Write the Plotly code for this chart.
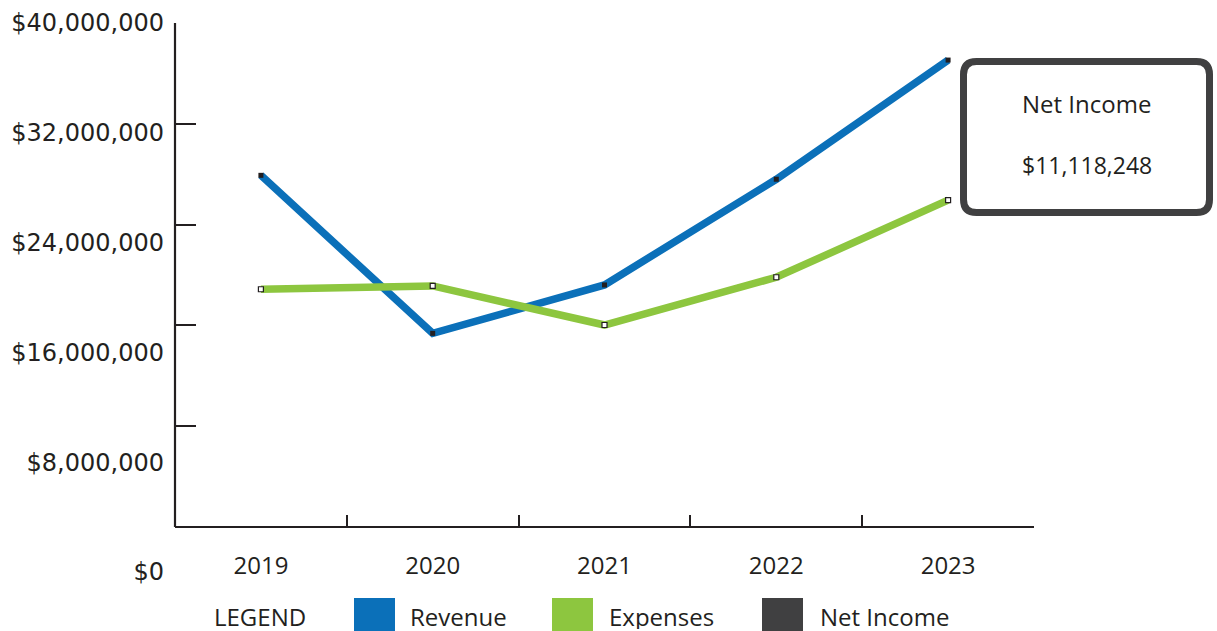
import plotly.graph_objects as go

# Financial summary, 2019-2023
years = ["2019", "2020", "2021", "2022", "2023"]
revenue = [27_910_000, 15_370_000, 19_210_000, 27_600_000, 37_058_248]
expenses = [18_870_000, 19_130_000, 16_030_000, 19_820_000, 25_940_000]
net_income = [r - e for r, e in zip(revenue, expenses)]

y_tick_values = [0, 8_000_000, 16_000_000, 24_000_000, 32_000_000, 40_000_000]
y_tick_labels = ["$0", "$8,000,000", "$16,000,000", "$24,000,000",
                 "$32,000,000", "$40,000,000"]

legend_names = ["Revenue", "Expenses", "Net Income"]

BLUE = "#0b70b9"
GREEN = "#8dc63f"
DARK = "#404041"
INK = "#231f20"
FONT = "'Open Sans', Lato, sans-serif"
NUM_FONT = "'DejaVu Sans', 'Open Sans', sans-serif"
FS = 24

# page geometry (pixels)
W, H = 1217, 631
L, R, T, B = 175, 183, 23, 59
PW, PH = W - L - R, H - T - B
ZERO_PX, TOP_PX = 527, 23          # where $0 and $40M sit on the value axis
Y_MAX = y_tick_values[-1]
Y_MIN = -(H - B - ZERO_PX) / (ZERO_PX - TOP_PX) * Y_MAX


def px(x):
    return (x - L) / PW


def py(y):
    return (H - B - y) / PH


fig = go.Figure()

fig.add_trace(go.Scatter(
    x=years, y=revenue, name="Revenue", mode="lines+markers",
    line=dict(color=BLUE, width=7.5),
    marker=dict(symbol="square", size=5, color=INK),
    showlegend=False,
))
fig.add_trace(go.Scatter(
    x=years, y=expenses, name="Expenses", mode="lines+markers",
    line=dict(color=GREEN, width=7.5),
    marker=dict(symbol="square", size=5, color="white",
                line=dict(color=INK, width=1.2)),
    showlegend=False,
))
# invisible trace that carries the secondary label axis
fig.add_trace(go.Scatter(
    x=years, y=[None] * len(years), yaxis="y2", showlegend=False,
    hoverinfo="skip",
))

shapes = []
# value axis line, from $0 to $40M
shapes.append(dict(type="line", xref="paper", yref="y", x0=0, x1=0,
                   y0=0, y1=Y_MAX, line=dict(color=INK, width=2.2)))

# rounded call-out box for net income
bl, br, bt, bb, rad = 963.5, 1209.5, 61.5, 212.5, 13


def P(x, y):
    return f"{px(x):.5f},{py(y):.5f}"


path = (f"M {P(bl + rad, bt)} L {P(br - rad, bt)} Q {P(br, bt)} {P(br, bt + rad)} "
        f"L {P(br, bb - rad)} Q {P(br, bb)} {P(br - rad, bb)} "
        f"L {P(bl + rad, bb)} Q {P(bl, bb)} {P(bl, bb - rad)} "
        f"L {P(bl, bt + rad)} Q {P(bl, bt)} {P(bl + rad, bt)} Z")
shapes.append(dict(type="path", xref="paper", yref="paper", path=path,
                   fillcolor="white", line=dict(color=DARK, width=7)))

annotations = [
    dict(text="Net Income", x=px(1086.5), y=py(103), xref="paper", yref="paper",
         showarrow=False, font=dict(family=FONT, size=FS, color=INK),
         xanchor="center", yanchor="middle"),
    dict(text=f"${net_income[-1]:,}", x=px(1086.5), y=py(165), xref="paper",
         yref="paper", showarrow=False,
         font=dict(family=FONT, size=23, color=INK),
         xanchor="center", yanchor="middle"),
    dict(text="LEGEND", x=px(212), y=py(616), xref="paper", yref="paper",
         showarrow=False, font=dict(family=FONT, size=FS, color=INK),
         xanchor="left", yanchor="middle", height=26),
]

# legend swatches and names
swatch_left = [354, 552, 762]
text_left = [408, 607, 818]
swatch_colors = [BLUE, GREEN, DARK]
for name, sx, tx, c in zip(legend_names, swatch_left, text_left, swatch_colors):
    shapes.append(dict(type="rect", xref="paper", yref="paper",
                       x0=px(sx), x1=px(sx + 41), y0=py(598), y1=py(640),
                       fillcolor=c, line=dict(width=0)))
    annotations.append(dict(text=name, x=px(tx), y=py(616), xref="paper",
                            yref="paper", showarrow=False,
                            font=dict(family=FONT, size=FS, color=INK),
                            xanchor="left", yanchor="middle", height=26))

fig.update_layout(
    width=W, height=H,
    margin=dict(l=L, r=R, t=T, b=B, pad=0, autoexpand=False),
    paper_bgcolor="white", plot_bgcolor="white",
    font=dict(family=FONT, size=FS, color=INK),
    showlegend=False,
    xaxis=dict(
        type="category", categoryorder="array", categoryarray=years,
        range=[-0.5, len(years) - 0.5], anchor="free",
        position=(H - B - ZERO_PX) / PH, automargin=False,
        showline=True, linecolor=INK, linewidth=2.2,
        ticks="inside", tickson="boundaries", ticklen=11, tickwidth=2,
        tickcolor=INK, showgrid=False, zeroline=False,
        tickfont=dict(family=FONT, size=FS, color=INK),
        ticklabelstandoff=17,
    ),
    yaxis=dict(
        range=[Y_MIN, Y_MAX], tickvals=y_tick_values, showticklabels=False,
        ticks="inside", ticklen=21, tickwidth=2.2, tickcolor=INK,
        showline=False, showgrid=False, zeroline=False, automargin=False,
    ),
    yaxis2=dict(
        overlaying="y", side="left", range=[0, Y_MAX],
        tickvals=y_tick_values, ticktext=y_tick_labels, ticks="",
        showline=False, showgrid=False, zeroline=False, automargin=False,
        tickfont=dict(family=NUM_FONT, size=24, color=INK),
        ticklabelstandoff=10,
    ),
    shapes=shapes,
    annotations=annotations,
)

fig.write_html("out.html", config={"displayModeBar": False})
